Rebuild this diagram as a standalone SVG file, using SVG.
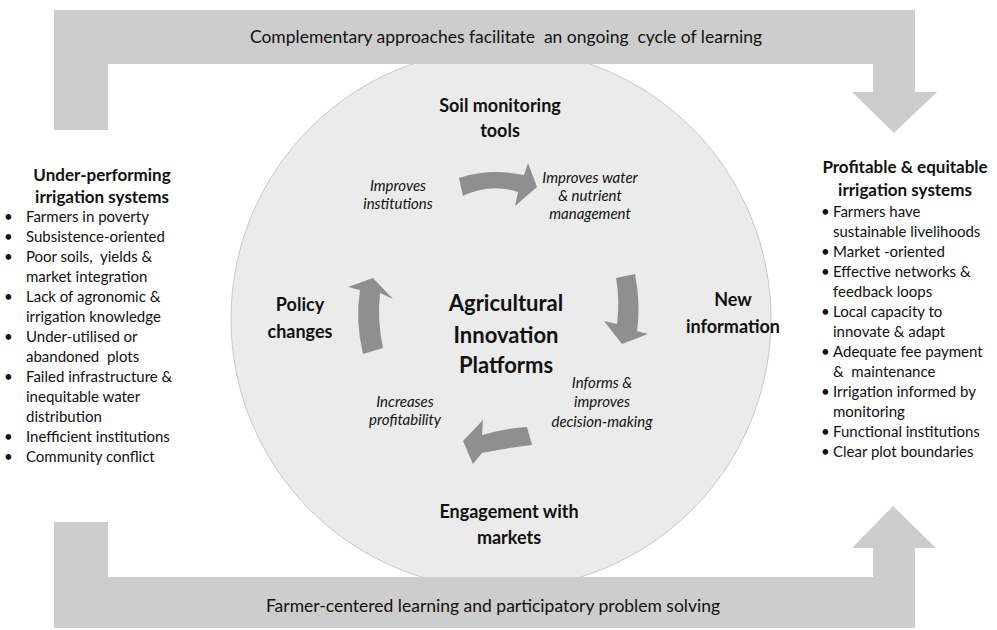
<svg xmlns="http://www.w3.org/2000/svg" width="997" height="630" viewBox="0 0 997 630">
<style>
.t{font-family:Lato,"Open Sans","Liberation Sans",sans-serif;fill:#111;}
.b{font-weight:bold;}
.i{font-style:italic;}
.band{fill:#cdcdcd;}
.arr{fill:#8f8f8f;}
.lst{font-size:15px;}
</style>
<rect width="997" height="630" fill="#ffffff"/>
<g id="cycle-circle">
<circle cx="501" cy="319" r="270" fill="#ebebeb" stroke="#c9c9c9" stroke-width="1"/>
</g>
<g id="top-bracket">
<path class="band" d="M54,10 L915,10 L915,92 L937,92 L894,133 L852,92 L873,92 L873,64 L108,64 L108,130 L54,130 Z"/>
<text class="t" x="506" y="43" font-size="17.5" text-anchor="middle" xml:space="preserve">Complementary approaches facilitate  an ongoing  cycle of learning</text>
</g>
<g id="bottom-bracket">
<path class="band" d="M54,522 L108,522 L108,577 L873,577 L873,548 L852,548 L893,506 L936,548 L915,548 L915,628 L54,628 Z"/>
<text class="t" x="493" y="612" font-size="17.5" text-anchor="middle">Farmer-centered learning and participatory problem solving</text>
</g>
<g id="connectors">
<path class="arr" d="M459,178 Q490,168 524,175 L528,163 L537,187 L515,206 L518,192 Q490,183 463,196 Z"/>
<path class="arr" d="M616,278 L635,274 Q641,305 637,331 L648,334 L622,344 L604,321 L617,324 Q620,300 616,278 Z"/>
<path class="arr" d="M527,427 Q505,428 482,435 L483,420 L463,441 L473,464 L482,453 Q507,448 532,445 Z"/>
<path class="arr" d="M363,354 Q355,320 360,290 L348,287 L373,278 L393,299 L380,293 Q377,320 383,348 Z"/>
</g>
<g id="under-performing">
<text class="t b" font-size="17" text-anchor="middle"><tspan x="102" y="181">Under-performing</tspan><tspan x="102" y="203">irrigation systems</tspan></text>
<text class="t lst"><tspan x="4" y="222">•</tspan><tspan x="26" y="222">Farmers in poverty</tspan><tspan x="4" y="242">•</tspan><tspan x="26" y="242">Subsistence-oriented</tspan><tspan x="4" y="262">•</tspan><tspan x="26" y="262" xml:space="preserve">Poor soils,  yields &amp;</tspan><tspan x="26" y="282">market integration</tspan><tspan x="4" y="302">•</tspan><tspan x="26" y="302">Lack of agronomic &amp;</tspan><tspan x="26" y="322">irrigation knowledge</tspan><tspan x="4" y="342">•</tspan><tspan x="26" y="342">Under-utilised or</tspan><tspan x="26" y="362" xml:space="preserve">abandoned  plots</tspan><tspan x="4" y="382">•</tspan><tspan x="26" y="382">Failed infrastructure &amp;</tspan><tspan x="26" y="402">inequitable water</tspan><tspan x="26" y="422">distribution</tspan><tspan x="4" y="442">•</tspan><tspan x="26" y="442">Inefficient institutions</tspan><tspan x="4" y="462">•</tspan><tspan x="26" y="462">Community conflict</tspan></text>
</g>
<g id="profitable">
<text class="t b" font-size="17" text-anchor="middle"><tspan x="905" y="173">Profitable &amp; equitable</tspan><tspan x="905" y="196">irrigation systems</tspan></text>
<text class="t lst"><tspan x="821" y="217">•</tspan><tspan x="833" y="217">Farmers have</tspan><tspan x="833" y="237">sustainable livelihoods</tspan><tspan x="821" y="257">•</tspan><tspan x="833" y="257">Market -oriented</tspan><tspan x="821" y="277">•</tspan><tspan x="833" y="277">Effective networks &amp;</tspan><tspan x="833" y="297">feedback loops</tspan><tspan x="821" y="317">•</tspan><tspan x="833" y="317">Local capacity to</tspan><tspan x="833" y="337">innovate &amp; adapt</tspan><tspan x="821" y="357">•</tspan><tspan x="833" y="357">Adequate fee payment</tspan><tspan x="833" y="377" xml:space="preserve">&amp;  maintenance</tspan><tspan x="821" y="397">•</tspan><tspan x="833" y="397">Irrigation informed by</tspan><tspan x="833" y="417">monitoring</tspan><tspan x="821" y="437">•</tspan><tspan x="833" y="437">Functional institutions</tspan><tspan x="821" y="457">•</tspan><tspan x="833" y="457">Clear plot boundaries</tspan></text>
</g>
<g id="soil-monitoring">
<text class="t b" font-size="18" text-anchor="middle"><tspan x="500" y="112">Soil monitoring</tspan><tspan x="500" y="137">tools</tspan></text>
</g>
<g id="policy-changes">
<text class="t b" font-size="18" text-anchor="middle"><tspan x="300" y="311">Policy</tspan><tspan x="300" y="338">changes</tspan></text>
</g>
<g id="aip">
<text class="t b" font-size="22" text-anchor="middle"><tspan x="506" y="311">Agricultural</tspan><tspan x="506" y="343">Innovation</tspan><tspan x="506" y="373">Platforms</tspan></text>
</g>
<g id="new-information">
<text class="t b" font-size="18" text-anchor="middle"><tspan x="733" y="306">New</tspan><tspan x="733" y="333">information</tspan></text>
</g>
<g id="engagement-markets">
<text class="t b" font-size="18" text-anchor="middle"><tspan x="509" y="518">Engagement with</tspan><tspan x="509" y="544">markets</tspan></text>
</g>
<g id="label-improves-institutions">
<text class="t i" font-size="15" text-anchor="middle"><tspan x="398" y="191">Improves</tspan><tspan x="398" y="209">institutions</tspan></text>
</g>
<g id="label-improves-water">
<text class="t i" font-size="15" text-anchor="middle"><tspan x="590" y="183">Improves water</tspan><tspan x="590" y="201">&amp; nutrient</tspan><tspan x="590" y="219">management</tspan></text>
</g>
<g id="label-informs">
<text class="t i" font-size="15" text-anchor="middle"><tspan x="602" y="388">Informs &amp;</tspan><tspan x="602" y="407">improves</tspan><tspan x="602" y="427">decision-making</tspan></text>
</g>
<g id="label-increases">
<text class="t i" font-size="15" text-anchor="middle"><tspan x="405" y="407">Increases</tspan><tspan x="405" y="425">profitability</tspan></text>
</g>
</svg>
